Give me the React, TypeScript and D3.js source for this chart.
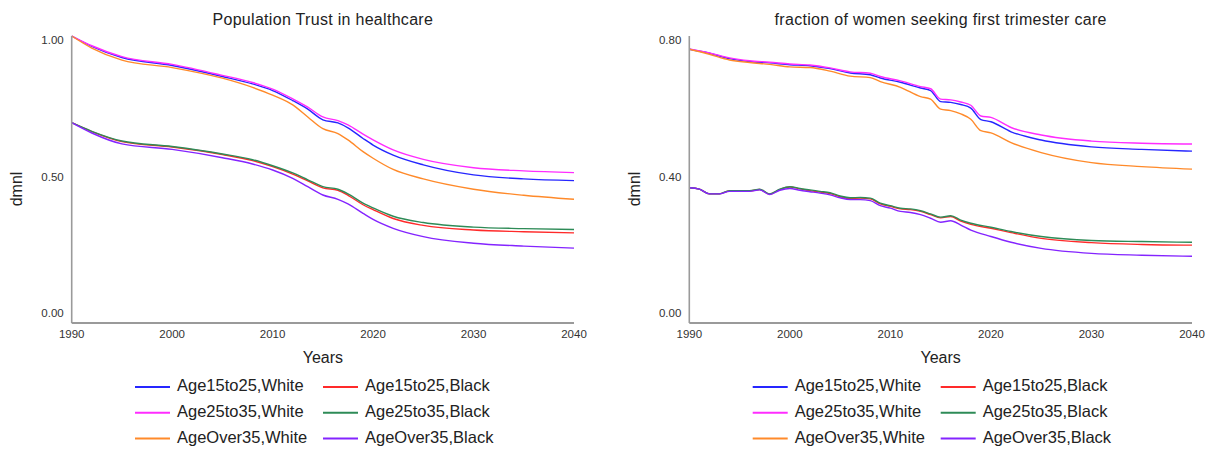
import * as d3 from "d3";
import React from "react";

// ---- data ----
const seriesNames = [
  "Age15to25,White",
  "Age15to25,Black",
  "Age25to35,White",
  "Age25to35,Black",
  "AgeOver35,White",
  "AgeOver35,Black",
];
const seriesColors = ["#2626ff", "#ff2a2a", "#ff2cff", "#2e8b57", "#ff8a2a", "#8424ff"];

// left: Population Trust in healthcare
const trustYears = [1990, 1992, 1995, 2000, 2005, 2008, 2010, 2012, 2013.5, 2015, 2016.5, 2017.5, 2019, 2020, 2022, 2025, 2030, 2035, 2040];
const trust15White = [1.0, 0.964, 0.925, 0.897, 0.859, 0.833, 0.81, 0.775, 0.745, 0.708, 0.697, 0.68, 0.643, 0.62, 0.585, 0.551, 0.516, 0.502, 0.496];
const trust15Black = [0.698, 0.667, 0.632, 0.613, 0.587, 0.566, 0.545, 0.519, 0.495, 0.471, 0.462, 0.445, 0.412, 0.395, 0.364, 0.34, 0.324, 0.318, 0.314];
const trust25White = [1.0, 0.966, 0.928, 0.901, 0.863, 0.838, 0.815, 0.781, 0.752, 0.718, 0.705, 0.69, 0.658, 0.638, 0.603, 0.57, 0.541, 0.53, 0.524];
const trust25Black = [0.698, 0.668, 0.634, 0.615, 0.589, 0.569, 0.548, 0.523, 0.499, 0.475, 0.466, 0.45, 0.418, 0.401, 0.372, 0.35, 0.334, 0.329, 0.326];
const trust35White = [1.0, 0.958, 0.916, 0.89, 0.853, 0.821, 0.794, 0.76, 0.718, 0.677, 0.66, 0.638, 0.597, 0.574, 0.535, 0.502, 0.466, 0.445, 0.431];
const trust35Black = [0.698, 0.662, 0.624, 0.605, 0.576, 0.554, 0.533, 0.504, 0.475, 0.446, 0.431, 0.415, 0.382, 0.361, 0.33, 0.301, 0.278, 0.268, 0.261];
const trustTicks = [0, 0.5, 1];

// right: fraction of women seeking first trimester care
const careWhiteYears = [1990, 1992, 1994, 1996, 1998, 2000, 2002, 2004, 2006, 2008, 2009, 2011, 2013, 2014, 2015, 2016, 2017, 2018, 2019, 2020, 2022, 2025, 2030, 2035, 2040];
const care15White = [0.763, 0.752, 0.737, 0.729, 0.725, 0.72, 0.717, 0.709, 0.697, 0.692, 0.683, 0.671, 0.655, 0.648, 0.617, 0.615, 0.609, 0.599, 0.567, 0.561, 0.533, 0.51, 0.491, 0.484, 0.479];
const care25White = [0.764, 0.753, 0.739, 0.731, 0.727, 0.722, 0.719, 0.711, 0.7, 0.696, 0.687, 0.675, 0.659, 0.653, 0.624, 0.622, 0.616, 0.607, 0.577, 0.573, 0.545, 0.524, 0.507, 0.501, 0.499];
const care35White = [0.763, 0.749, 0.733, 0.726, 0.721, 0.714, 0.712, 0.702, 0.688, 0.684, 0.673, 0.657, 0.631, 0.624, 0.596, 0.592, 0.583, 0.568, 0.536, 0.53, 0.503, 0.475, 0.447, 0.436, 0.429];
const careBlackYears = [1990, 1991, 1992, 1993, 1994, 1995, 1996, 1997, 1998, 1999, 2000, 2001, 2002, 2003, 2004, 2005, 2006, 2007, 2008, 2009, 2010, 2011, 2012, 2013, 2014, 2015, 2016, 2017, 2018, 2020, 2022, 2025, 2030, 2035, 2040];
const care15Black = [0.377, 0.373, 0.36, 0.36, 0.368, 0.368, 0.368, 0.372, 0.359, 0.372, 0.379, 0.374, 0.369, 0.365, 0.361, 0.352, 0.347, 0.348, 0.346, 0.332, 0.325, 0.318, 0.316, 0.311, 0.302, 0.293, 0.297, 0.284, 0.275, 0.264, 0.252, 0.236, 0.224, 0.219, 0.217];
const care25Black = [0.377, 0.373, 0.36, 0.36, 0.369, 0.369, 0.369, 0.373, 0.36, 0.373, 0.38, 0.375, 0.371, 0.367, 0.363, 0.354, 0.349, 0.35, 0.348, 0.334, 0.327, 0.32, 0.318, 0.313, 0.304, 0.295, 0.299, 0.287, 0.278, 0.267, 0.255, 0.241, 0.23, 0.227, 0.225];
const care35Black = [0.377, 0.373, 0.36, 0.36, 0.367, 0.367, 0.367, 0.371, 0.358, 0.37, 0.375, 0.37, 0.366, 0.362, 0.357, 0.349, 0.344, 0.344, 0.341, 0.327, 0.32, 0.311, 0.308, 0.302, 0.292, 0.281, 0.285, 0.273, 0.259, 0.241, 0.225, 0.208, 0.194, 0.189, 0.186];
const careTicks = [0, 0.4, 0.8];

const xTicks = [1990, 2000, 2010, 2020, 2030, 2040];

type Series = { years: number[]; values: number[] };

const font = "'Liberation Sans', Arial, sans-serif";

const Panel = (props: {
  title: string;
  left: number;
  right: number;
  yMax: number;
  yTicks: number[];
  series: Series[];
  legendX: number;
}) => {
  const { title, left, right, yMax, yTicks, series, legendX } = props;
  const top = 36;
  const bottom = 323;
  const x = d3.scaleLinear().domain([1990, 2040]).range([left, right]);
  const y = d3.scaleLinear().domain([0, yMax]).range([bottom, top]);
  // tick labels sit inside the axis ends
  const yLab = d3.scaleLinear().domain([0, yMax]).range([314, 41]);
  const mid = (left + right) / 2;

  const line = (s: Series) =>
    d3
      .line<number>()
      .x((_, i) => x(s.years[i]))
      .y((d) => y(d))
      .curve(d3.curveMonotoneX)(s.values) || "";

  return (
    <g fontFamily={font}>
      <text x={mid} y={25} textAnchor="middle" fontSize={16} letterSpacing={0.3} fill="#222">
        {title}
      </text>

      {series.map((s, i) => (
        <path key={i} d={line(s)} fill="none" stroke={seriesColors[i]} strokeWidth={1.4} />
      ))}

      <line x1={left} x2={left} y1={top} y2={bottom} stroke="#9a9a9a" strokeWidth={1.6} />
      <line x1={left} x2={right} y1={bottom} y2={bottom} stroke="#9a9a9a" strokeWidth={1.8} />

      {yTicks.map((t) => (
        <text key={t} x={left - 8} y={yLab(t)} textAnchor="end" dominantBaseline="middle" fontSize={11.5} fill="#333">
          {d3.format(".2f")(t)}
        </text>
      ))}
      {xTicks.map((t) => (
        <text key={t} x={x(t)} y={338} textAnchor="middle" fontSize={11.5} fill="#333">
          {t}
        </text>
      ))}

      <text x={mid} y={363} textAnchor="middle" fontSize={16} fill="#222">
        Years
      </text>
      <text
        transform={`translate(${left - 54},189) rotate(-90)`}
        textAnchor="middle"
        dominantBaseline="middle"
        fontSize={16}
        fill="#222"
      >
        dmnl
      </text>

      {seriesNames.map((name, i) => {
        const col = i % 2;
        const row = Math.floor(i / 2);
        const lx = legendX + col * 188;
        const ly = 387 + row * 25.8;
        return (
          <g key={name}>
            <line x1={lx} x2={lx + 35} y1={ly} y2={ly} stroke={seriesColors[i]} strokeWidth={2} />
            <text x={lx + 42} y={ly} dominantBaseline="middle" fontSize={16.5} fill="#222">
              {name}
            </text>
          </g>
        );
      })}
    </g>
  );
};

export default function App() {
  const trustSeries: Series[] = [
    { years: trustYears, values: trust15White },
    { years: trustYears, values: trust15Black },
    { years: trustYears, values: trust25White },
    { years: trustYears, values: trust25Black },
    { years: trustYears, values: trust35White },
    { years: trustYears, values: trust35Black },
  ];
  const careSeries: Series[] = [
    { years: careWhiteYears, values: care15White },
    { years: careBlackYears, values: care15Black },
    { years: careWhiteYears, values: care25White },
    { years: careBlackYears, values: care25Black },
    { years: careWhiteYears, values: care35White },
    { years: careBlackYears, values: care35Black },
  ];
  return (
    <svg width={1211} height={452} style={{ position: "absolute", left: 0, top: 0, background: "#fff" }}>
      <Panel
        title="Population Trust in healthcare"
        left={71.7}
        right={574}
        yMax={1}
        yTicks={trustTicks}
        series={trustSeries}
        legendX={135}
      />
      <Panel
        title="fraction of women seeking first trimester care"
        left={689.3}
        right={1192}
        yMax={0.8}
        yTicks={careTicks}
        series={careSeries}
        legendX={752.7}
      />
    </svg>
  );
}
